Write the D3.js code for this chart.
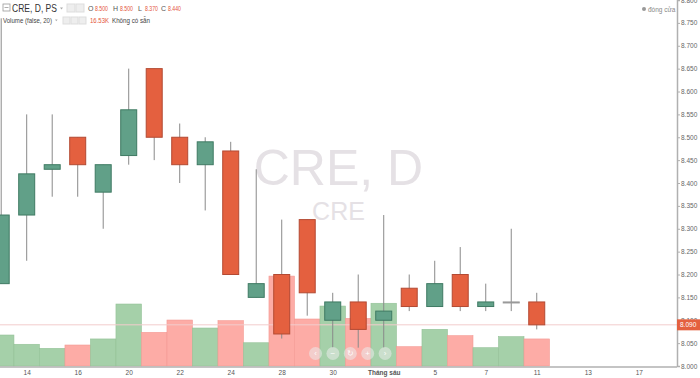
<!DOCTYPE html>
<html>
<head>
<meta charset="utf-8">
<script src="https://cdn.jsdelivr.net/npm/d3@7"></script>
<style>
  html, body { margin: 0; padding: 0; background: #fff; }
  svg { display: block; font-family: "Liberation Sans", Arial, sans-serif; }
</style>
</head>
<body>
<script>
// trading days shown (May 13 -> June 11), then empty future slots
const days = ["13","14","15","16","17","20","21","22","23","24","27","28","29","30","31","03","04","05","06","07","10","11"];
const opens  = [8.18, 8.33, 8.43, 8.50, 8.38, 8.46, 8.65, 8.50, 8.44, 8.47, 8.15, 8.20, 8.32, 8.10, 8.14, 8.10, 8.17, 8.13, 8.20, 8.13, 8.14, 8.14];
const highs  = [8.76, 8.55, 8.55, 8.50, 8.44, 8.65, 8.65, 8.53, 8.50, 8.49, 8.43, 8.32, 8.32, 8.16, 8.20, 8.33, 8.20, 8.23, 8.26, 8.18, 8.30, 8.16];
const lows   = [8.18, 8.23, 8.37, 8.37, 8.30, 8.44, 8.45, 8.40, 8.34, 8.20, 8.15, 8.06, 8.11, 8.04, 8.04, 8.04, 8.12, 8.13, 8.12, 8.12, 8.12, 8.08];
const closes = [8.33, 8.42, 8.44, 8.44, 8.44, 8.56, 8.50, 8.44, 8.49, 8.20, 8.18, 8.07, 8.16, 8.14, 8.08, 8.12, 8.13, 8.18, 8.13, 8.14, 8.14, 8.09];
const volumes = [24.4, 17.1, 13.9, 16.53, 21.3, 48.8, 26.5, 36.2, 29.9, 35.7, 18.3, 70.8, 37.0, 47.2, 37.5, 49.4, 15.2, 28.9, 23.9, 14.4, 23.1, 21.3]; // thousands

// x tick positions (slot index) and their labels
const tickSlots  = [1, 3, 5, 7, 9, 11, 13, 15, 17, 19, 21, 23, 25];
const tickLabels = ["14", "16", "20", "22", "24", "28", "30", "Tháng sáu", "5", "7", "11", "13", "17"];
const priceTicks = d3.range(8.0, 8.8001, 0.05);
const lastPrice = 8.09;

var width = 700, height = 378;
var plotRight = 677, plotBottom = 366;

var svg = d3.select("body").append("svg")
    .attr("width", width)
    .attr("height", height);

var x = d3.scaleLinear().domain([0, 26.5]).range([1.2, plotRight]);
var y = d3.scaleLinear().domain([8.0, 8.8]).range([plotBottom, 0]);
var yVol = d3.scaleLinear().domain([0, 100]).range([plotBottom, plotBottom - 127]);

var slot = x(1) - x(0);
var bodyW = 16;

var data = days.map(function(d, i) {
    return {i: i, day: d, o: opens[i], h: highs[i], l: lows[i], c: closes[i], v: volumes[i]};
});

svg.append("clipPath").attr("id", "plotClip")
  .append("rect").attr("x", 0).attr("y", 0).attr("width", plotRight).attr("height", plotBottom + 1);

// watermark
svg.append("text")
    .attr("x", plotRight / 2).attr("y", 185)
    .attr("text-anchor", "middle")
    .style("font-size", "50px")
    .style("fill", "#e5e1e5")
    .text("CRE, D");
svg.append("text")
    .attr("x", plotRight / 2).attr("y", 220)
    .attr("text-anchor", "middle")
    .style("font-size", "25px")
    .style("fill", "#e5e1e5")
    .text("CRE");

var plot = svg.append("g").attr("clip-path", "url(#plotClip)");

// volume bars
plot.selectAll(".vol")
    .data(data)
  .enter().append("rect")
    .attr("class", "vol")
    .attr("x", function(d) { return x(d.i) - slot / 2; })
    .attr("width", slot)
    .attr("y", function(d) { return yVol(d.v); })
    .attr("height", function(d) { return plotBottom - yVol(d.v); })
    .style("fill", function(d) { return d.c >= d.o ? "#a5d0a9" : "#fdaca6"; })
    .style("stroke", function(d) { return d.c >= d.o ? "#93c197" : "#f39a94"; })
    .style("stroke-width", 0.6);

// last price line
plot.append("line")
    .attr("x1", 0).attr("x2", plotRight)
    .attr("y1", y(lastPrice)).attr("y2", y(lastPrice))
    .style("stroke", "#f2cccc")
    .style("stroke-width", 1);

// wicks
plot.selectAll(".wick")
    .data(data)
  .enter().append("line")
    .attr("class", "wick")
    .attr("x1", function(d) { return x(d.i); })
    .attr("x2", function(d) { return x(d.i); })
    .attr("y1", function(d) { return y(d.h); })
    .attr("y2", function(d) { return y(d.l); })
    .style("stroke", "#8a8a8a")
    .style("stroke-width", 1);

// bodies
plot.selectAll(".body")
    .data(data)
  .enter().append("rect")
    .attr("class", "body")
    .attr("x", function(d) { return x(d.i) - bodyW / 2; })
    .attr("width", bodyW)
    .attr("y", function(d) { return y(Math.max(d.o, d.c)); })
    .attr("height", function(d) { return Math.max(1, Math.abs(y(d.o) - y(d.c))); })
    .style("fill", function(d) { return d.c > d.o ? "#61a088" : (d.c < d.o ? "#e4603f" : "#999"); })
    .style("stroke", function(d) { return d.c > d.o ? "#3f7a63" : (d.c < d.o ? "#b34a33" : "#999"); })
    .style("stroke-width", 1);

// navigation buttons overlay
var navs = ["‹", "−", "↻", "+", "›"];
var nav = svg.selectAll(".nav")
    .data(navs)
  .enter().append("g")
    .attr("class", "nav")
    .attr("transform", function(d, i) { return "translate(" + (315.5 + i * 17.4) + ",353.5)"; });
nav.append("circle").attr("r", 6.5).style("fill", "rgba(235,235,235,0.55)");
nav.append("text")
    .attr("text-anchor", "middle").attr("dy", "0.35em")
    .style("font-size", "8px").style("fill", "rgba(255,255,255,0.95)")
    .text(function(d) { return d; });

// right price axis
var yAxis = svg.append("g")
    .attr("transform", "translate(" + plotRight + ",0)")
    .call(d3.axisRight(y)
        .tickValues(priceTicks)
        .tickSize(3)
        .tickPadding(1)
        .tickFormat(d3.format(".3f")));
yAxis.select(".domain").style("stroke", "#b0b0b0").style("stroke-width", 1.5);
yAxis.selectAll(".tick line").style("stroke", "#b0b0b0");
yAxis.selectAll("text").style("font-size", "6.5px").style("fill", "#666");

// last price tag
svg.append("rect")
    .attr("x", plotRight).attr("y", y(lastPrice) - 5.5)
    .attr("width", width - plotRight).attr("height", 11)
    .style("fill", "#e4603f");
svg.append("text")
    .attr("x", plotRight + 3).attr("y", y(lastPrice)).attr("dy", "0.35em")
    .style("font-size", "6.5px").style("fill", "#fff")
    .text(d3.format(".3f")(lastPrice));

// bottom time axis
var xAxis = svg.append("g")
    .attr("transform", "translate(0," + (plotBottom + 1) + ")")
    .call(d3.axisBottom(x)
        .tickValues(tickSlots)
        .tickSize(0)
        .tickPadding(3)
        .tickFormat(function(d, i) { return tickLabels[i]; }));
xAxis.select(".domain").attr("d", "M0,0H" + plotRight).style("stroke", "#b0b0b0").style("stroke-width", 1.5);
xAxis.selectAll("text")
    .style("font-size", "6.5px")
    .style("fill", "#555")
    .style("font-weight", function(d, i) { return tickLabels[i] === "Tháng sáu" ? "bold" : "normal"; });

// legend / header
var head = svg.append("g");
head.append("rect").attr("x", 3).attr("y", 4).attr("width", 7).attr("height", 7)
    .style("fill", "none").style("stroke", "#999").style("stroke-width", 0.8);
head.append("line").attr("x1", 4.5).attr("x2", 8.5).attr("y1", 7.5).attr("y2", 7.5)
    .style("stroke", "#999").style("stroke-width", 0.8);
head.append("text").attr("x", 12).attr("y", 12)
    .attr("textLength", 45).attr("lengthAdjust", "spacingAndGlyphs")
    .style("font-size", "10.5px").style("fill", "#333").text("CRE, D, PS");
// small dropdown carets
head.append("path").attr("d", "M60,7.5h3l-1.5,2z").style("fill", "#aaa");
head.append("path").attr("d", "M55,19.5h2.6l-1.3,1.8z").style("fill", "#aaa");
[67, 76].forEach(function(px) {
    head.append("rect").attr("x", px).attr("y", 4).attr("width", 8).attr("height", 8)
        .style("fill", "#eee").style("stroke", "#ddd");
});

var ohlcLabels = ["O", "H", "L", "C"];
var ohlcVals = [opens[3], highs[3], lows[3], closes[3]];
var ohlcX = [88, 113, 138, 161];
ohlcLabels.forEach(function(lab, i) {
    head.append("text").attr("x", ohlcX[i]).attr("y", 11)
        .style("font-size", "7px").style("fill", "#555").text(lab);
    head.append("text").attr("x", ohlcX[i] + 7).attr("y", 11)
        .attr("textLength", 13).attr("lengthAdjust", "spacingAndGlyphs")
        .style("font-size", "7px").style("fill", "#e4553b").text(d3.format(".3f")(ohlcVals[i]));
});

head.append("text").attr("x", 3).attr("y", 23)
    .attr("textLength", 49).attr("lengthAdjust", "spacingAndGlyphs")
    .style("font-size", "7px").style("fill", "#444").text("Volume (false, 20)");
[63, 71, 79].forEach(function(px) {
    head.append("rect").attr("x", px).attr("y", 17).attr("width", 7).attr("height", 7)
        .style("fill", "#eee").style("stroke", "#ddd");
});
head.append("text").attr("x", 90).attr("y", 23)
    .attr("textLength", 19).attr("lengthAdjust", "spacingAndGlyphs")
    .style("font-size", "7px").style("fill", "#e4553b").text(d3.format(".2f")(volumes[3]) + "K");
head.append("text").attr("x", 112).attr("y", 23)
    .attr("textLength", 38).attr("lengthAdjust", "spacingAndGlyphs")
    .style("font-size", "7px").style("fill", "#444").text("Không có sẵn");

// market status, top right
svg.append("circle").attr("cx", 644).attr("cy", 9).attr("r", 2).style("fill", "#999");
svg.append("text").attr("x", 648).attr("y", 11.5)
    .style("font-size", "6.5px").style("fill", "#888").text("đóng cửa");
</script>
</body>
</html>
